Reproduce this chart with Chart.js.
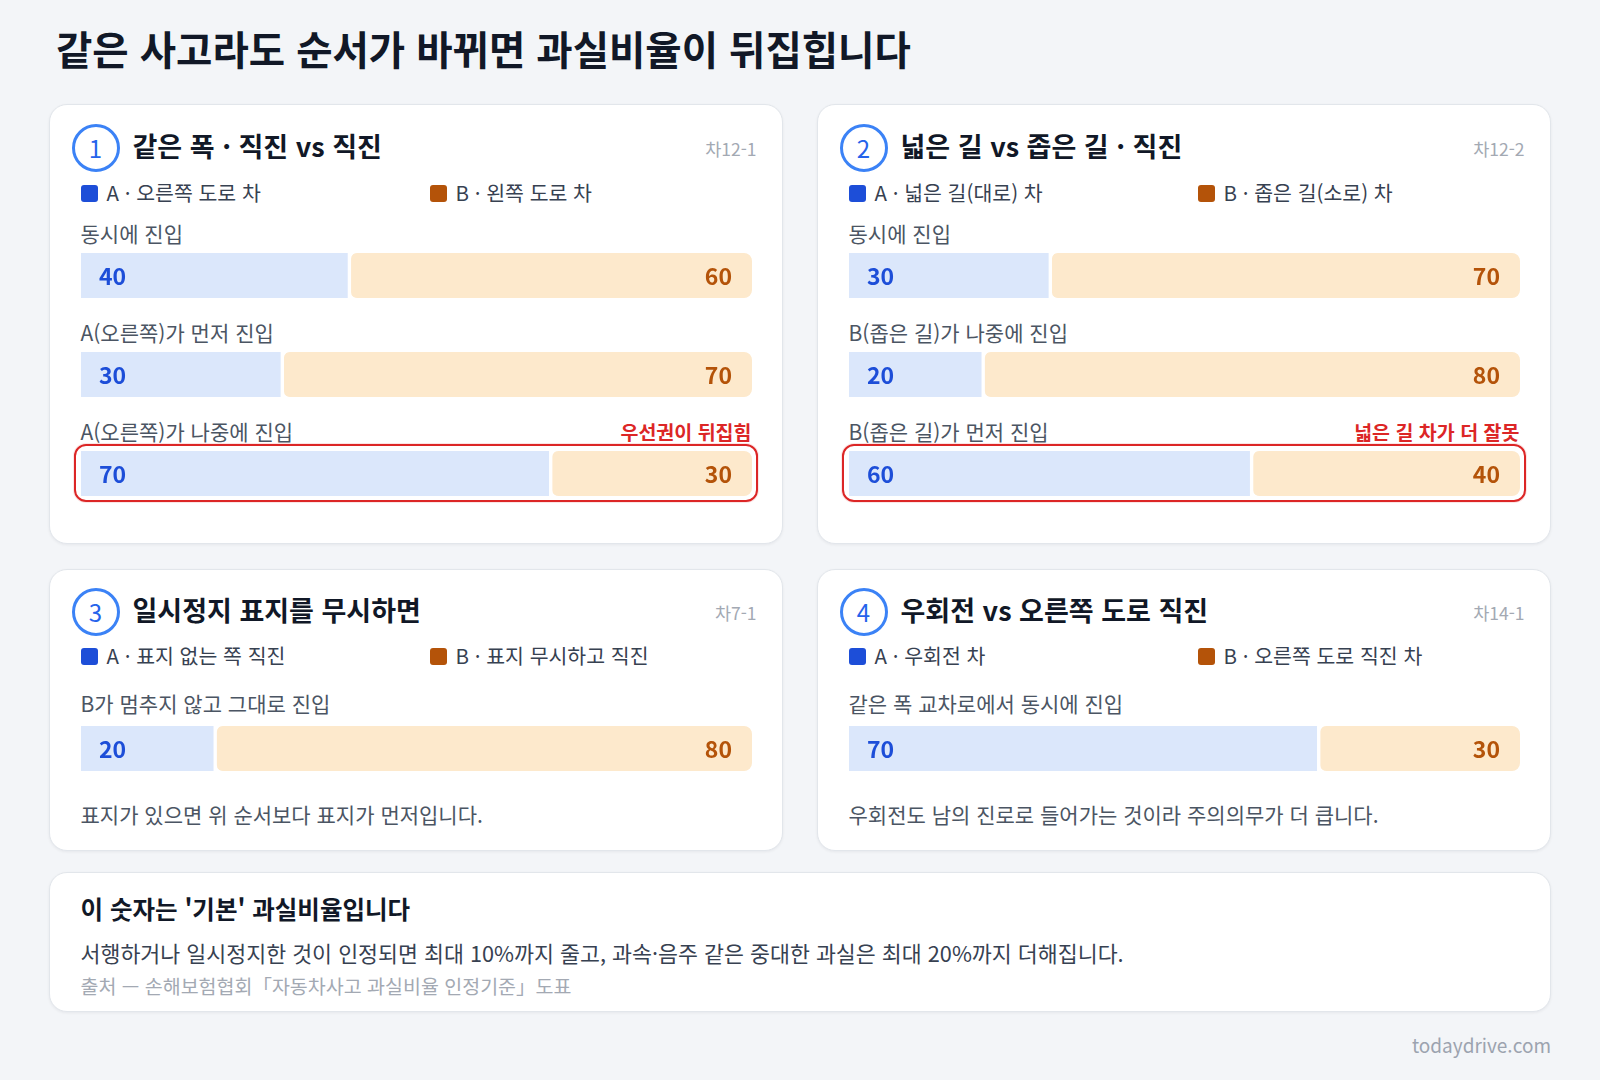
<!DOCTYPE html>
<html lang="ko">
<head>
<meta charset="utf-8">
<script src="https://cdn.jsdelivr.net/npm/chart.js"></script>
<style>
html,body{margin:0;padding:0;}
body{width:1600px;height:1080px;background:#f3f5f8;font-family:"Noto Sans CJK KR","Noto Sans",sans-serif;position:relative;overflow:hidden;color:#111827;}
.t{position:absolute;white-space:nowrap;}
.card{position:absolute;background:#fff;border:1.5px solid #e2e6eb;border-radius:18px;box-sizing:border-box;box-shadow:0 1px 3px rgba(15,23,42,0.06);}
.badge{position:absolute;width:48px;height:48px;box-sizing:border-box;border:3px solid #3b82f6;border-radius:50%;display:flex;align-items:center;justify-content:center;color:#2563eb;font-size:24px;line-height:1;}
.sq{position:absolute;width:17px;height:17px;border-radius:3px;}
.hl{position:absolute;border:2px solid #dc2626;border-radius:12px;box-sizing:border-box;box-shadow:0 0 0 1px rgba(220,38,38,0.12);}
</style>
</head>
<body>
<script>
// ---- data ----
const pageTitle = '같은 사고라도 순서가 바뀌면 과실비율이 뒤집힙니다';
const cardTitles = ['같은 폭 · 직진 vs 직진', '넓은 길 vs 좁은 길 · 직진', '일시정지 표지를 무시하면', '우회전 vs 오른쪽 도로 직진'];
const cardCodes = ['차12-1', '차12-2', '차7-1', '차14-1'];
const legendA = ['A · 오른쪽 도로 차', 'A · 넓은 길(대로) 차', 'A · 표지 없는 쪽 직진', 'A · 우회전 차'];
const legendB = ['B · 왼쪽 도로 차', 'B · 좁은 길(소로) 차', 'B · 표지 무시하고 직진', 'B · 오른쪽 도로 직진 차'];

const card1Rows = ['동시에 진입', 'A(오른쪽)가 먼저 진입', 'A(오른쪽)가 나중에 진입'];
const card1A = [40, 30, 70];
const card1B = [60, 70, 30];

const card2Rows = ['동시에 진입', 'B(좁은 길)가 나중에 진입', 'B(좁은 길)가 먼저 진입'];
const card2A = [30, 20, 60];
const card2B = [70, 80, 40];

const card3Rows = ['B가 멈추지 않고 그대로 진입'];
const card3A = [20];
const card3B = [80];

const card4Rows = ['같은 폭 교차로에서 동시에 진입'];
const card4A = [70];
const card4B = [30];

const highlightNotes = ['우선권이 뒤집힘', '넓은 길 차가 더 잘못', '', ''];
const cardNotes = ['', '', '표지가 있으면 위 순서보다 표지가 먼저입니다.', '우회전도 남의 진로로 들어가는 것이라 주의의무가 더 큽니다.'];

const summaryTitle = "이 숫자는 '기본' 과실비율입니다";
const summaryBody = '서행하거나 일시정지한 것이 인정되면 최대 10%까지 줄고, 과속·음주 같은 중대한 과실은 최대 20%까지 더해집니다.';
const sourceText = '출처 — 손해보험협회「자동차사고 과실비율 인정기준」도표';
const brandText = 'todaydrive.com';

// ---- style ----
const COLOR_A = '#1d4ed8', COLOR_B = '#b45309';
const FILL_A = '#dbe7fb', FILL_B = '#fde9cc';

function txt(parent, s, x, cy, fs, opts) {
  opts = opts || {};
  const L = Math.round(fs * 1.4);
  const el = document.createElement('div');
  el.className = 't';
  el.textContent = s;
  el.style.fontSize = fs + 'px';
  el.style.lineHeight = L + 'px';
  el.style.top = (cy - L / 2 - 0.056 * fs) + 'px';
  if (opts.right !== undefined) el.style.right = opts.right + 'px'; else el.style.left = x + 'px';
  el.style.color = opts.color || '#111827';
  el.style.fontWeight = opts.weight || 400;
  if (opts.ls) el.style.letterSpacing = opts.ls + 'px';
  parent.appendChild(el);
  return el;
}

const valuePlugin = {
  id: 'vals',
  afterDatasetsDraw(chart) {
    const ctx = chart.ctx;
    const m0 = chart.getDatasetMeta(0).data[0];
    const m1 = chart.getDatasetMeta(1).data[0];
    const fs = 23;
    ctx.save();
    ctx.font = '700 ' + fs + 'px "Noto Sans CJK KR", "Noto Sans", sans-serif';
    const base = m0.y + 0.33 * fs + 1.5;
    ctx.fillStyle = COLOR_A; ctx.textAlign = 'left';
    ctx.fillText(String(chart.data.datasets[0].data[0]), Math.min(m0.base, m0.x) + 18, base);
    ctx.fillStyle = COLOR_B; ctx.textAlign = 'right';
    ctx.fillText(String(chart.data.datasets[1].data[0]), Math.max(m1.x, m1.base) - 20, base);
    ctx.restore();
  }
};

function makeBar(parent, a, b, left, top, w, h) {
  const wrap = document.createElement('div');
  wrap.style.cssText = `position:absolute;left:${left}px;top:${top}px;width:${w}px;height:${h}px;`;
  const cv = document.createElement('canvas');
  wrap.appendChild(cv);
  parent.appendChild(wrap);
  new Chart(cv, {
    type: 'bar',
    data: {
      labels: [''],
      datasets: [
        { data: [a], backgroundColor: FILL_A, borderColor: '#ffffff', borderWidth: { top: 0, bottom: 0, left: 0, right: 2 }, borderRadius: 8, borderSkipped: false },
        { data: [b], backgroundColor: FILL_B, borderColor: '#ffffff', borderWidth: { top: 0, bottom: 0, left: 2, right: 0 }, borderRadius: 8, borderSkipped: false }
      ]
    },
    options: {
      indexAxis: 'y', responsive: true, maintainAspectRatio: false, animation: false, events: [],
      layout: { padding: 0 },
      plugins: { legend: { display: false }, tooltip: { enabled: false } },
      datasets: { bar: { barPercentage: 1, categoryPercentage: 1 } },
      scales: { x: { stacked: true, display: false, min: 0, max: 100 }, y: { stacked: true, display: false } }
    },
    plugins: [valuePlugin]
  });
}

// ---- layout ----
const body = document.body;
txt(body, pageTitle, 56, 50, 39.5, { weight: 700, color: '#111827' });

const cardRows = [card1Rows, card2Rows, card3Rows, card4Rows];
const cardA = [card1A, card2A, card3A, card4A];
const cardB = [card1B, card2B, card3B, card4B];
const cardBoxes = [
  { x: 49, y: 104, h: 440, tall: true },
  { x: 817, y: 104, h: 440, tall: true },
  { x: 49, y: 569, h: 282, tall: false },
  { x: 817, y: 569, h: 282, tall: false }
];

cardBoxes.forEach((bx, i) => {
  const c = document.createElement('div');
  c.className = 'card';
  c.style.cssText += `left:${bx.x}px;top:${bx.y}px;width:734px;height:${bx.h}px;`;
  body.appendChild(c);
  const o = -1.5; // border offset
  const L = bx.tall
    ? { circ: 44, leg: 90, row: 131, bar: 149 }
    : { circ: 43, leg: 88, row: 136, bar: 157 };
  const badge = document.createElement('div');
  badge.className = 'badge';
  badge.textContent = String(i + 1);
  badge.style.left = (23 + o) + 'px';
  badge.style.top = (L.circ - 24 + o) + 'px';
  c.appendChild(badge);
  txt(c, cardTitles[i], 84 + o, L.circ + o, 27, { weight: 700 });
  txt(c, cardCodes[i], 0, L.circ + 2 + o, 17.5, { right: 27 + o, color: '#a3a9b3' });
  // legend
  const sa = document.createElement('div'); sa.className = 'sq'; sa.style.background = COLOR_A;
  sa.style.left = (32 + o) + 'px'; sa.style.top = (L.leg - 8.5 + o) + 'px'; c.appendChild(sa);
  txt(c, legendA[i], 58 + o, L.leg + o, 20.5, { color: '#374151' });
  const sb = document.createElement('div'); sb.className = 'sq'; sb.style.background = COLOR_B;
  sb.style.left = (381 + o) + 'px'; sb.style.top = (L.leg - 8.5 + o) + 'px'; c.appendChild(sb);
  txt(c, legendB[i], 407 + o, L.leg + o, 20.5, { color: '#374151' });
  // rows
  const rows = cardRows[i];
  rows.forEach((lab, r) => {
    const ly = L.row + r * 99;
    const by = L.bar + r * 99;
    txt(c, lab, 32 + o, ly + o, 21, { color: '#4b5563' });
    const isLast = r === rows.length - 1;
    if (isLast && highlightNotes[i]) {
      txt(c, highlightNotes[i], 0, ly + o, 19.5, { right: 32 + o, color: '#dc2626', weight: 700 });
      const hl = document.createElement('div');
      hl.className = 'hl';
      hl.style.cssText += `left:${25 + o}px;top:${by - 7 + o}px;width:684px;height:58px;`;
      c.appendChild(hl);
    }
    makeBar(c, cardA[i][r], cardB[i][r], 32 + o, by + o, 671, 45);
  });
  if (cardNotes[i]) txt(c, cardNotes[i], 32 + o, 247 + o, 21, { color: '#4b5563' });
});

// summary card
const s = document.createElement('div');
s.className = 'card';
s.style.cssText += 'left:49px;top:872px;width:1502px;height:140px;';
body.appendChild(s);
txt(s, summaryTitle, 30.5, 37.5, 24.5, { weight: 700 });
txt(s, summaryBody, 30.5, 81.5, 21.7, { color: '#374151' });
txt(s, sourceText, 30.5, 113.5, 19.5, { color: '#a3a9b3' });

txt(body, brandText, 0, 1046, 19, { right: 49, color: '#9ca3af' });
</script>
</body>
</html>
